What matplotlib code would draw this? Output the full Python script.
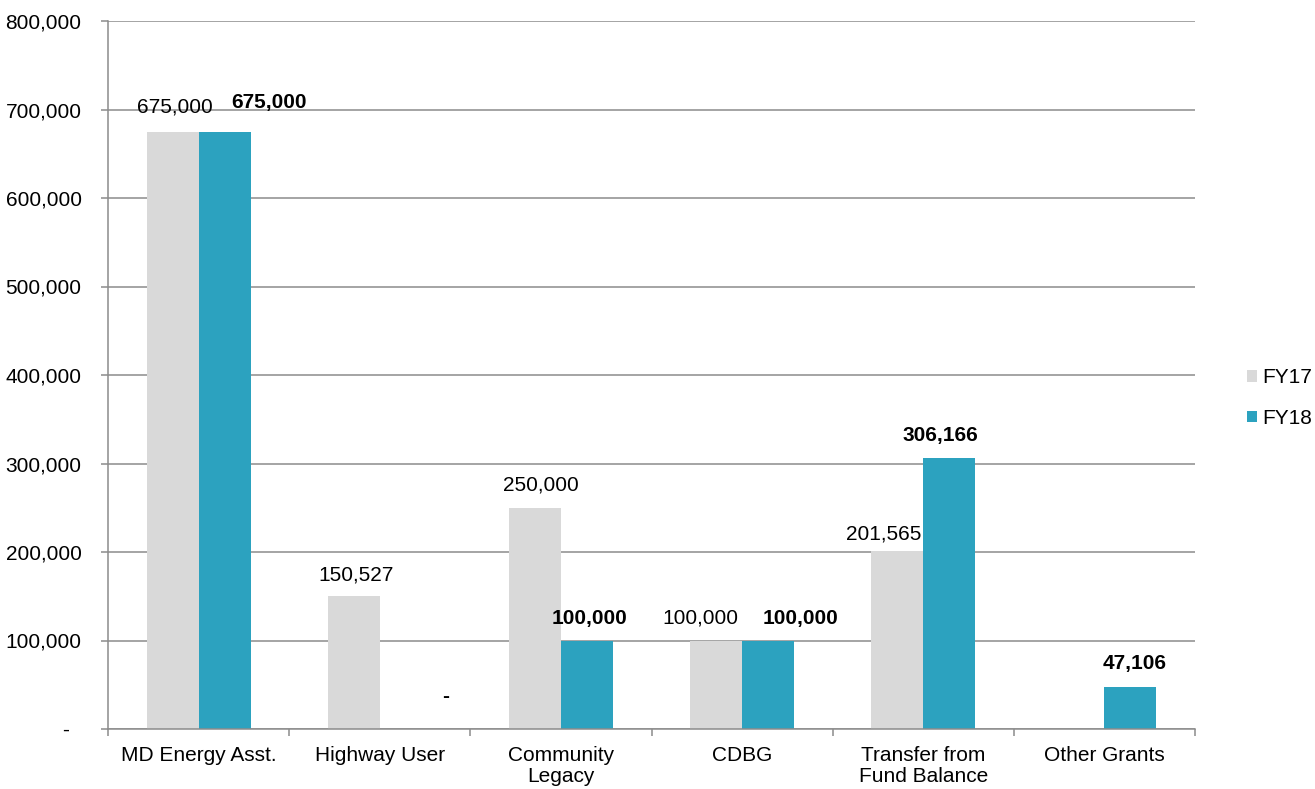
import matplotlib
matplotlib.use("Agg")
import matplotlib.pyplot as plt
import numpy as np
from matplotlib.ticker import FuncFormatter, FixedLocator

plt.rcParams["font.family"] = ["Liberation Sans", "DejaVu Sans"]

categories = ["MD Energy Asst.", "Highway User", "Community\nLegacy", "CDBG",
              "Transfer from\nFund Balance", "Other Grants"]
fy17 = [675000, 150527, 250000, 100000, 201565, 0]
fy18 = [675000, 0, 100000, 100000, 306166, 47106]
# which bars carry a value label (FY17 Other Grants is left blank)
fy17_labeled = [True, True, True, True, True, False]
fy18_labeled = [True, True, True, True, True, True]

c17 = "#D9D9D9"
c18 = "#2CA2BF"
grid_c = "#8C8C8C"
FS = 15

fig = plt.figure(figsize=(13.15, 7.89), dpi=100)
ax = fig.add_axes([108/1315, 1-729/789, (1195-108)/1315, (729-21)/789])

x = np.arange(len(categories))
w = 0.287
b17 = ax.bar(x - w/2, fy17, w, color=c17, zorder=2, label="FY17")
b18 = ax.bar(x + w/2, fy18, w, color=c18, zorder=2, label="FY18")

ax.set_xlim(-0.5, len(categories) - 0.5)
ax.set_ylim(0, 800000)
ax.set_yticks(np.arange(0, 800001, 100000))
ax.yaxis.set_major_formatter(FuncFormatter(lambda v, p: "-  " if v == 0 else f"{int(v):,}"))
ax.grid(axis="y", color=grid_c, linewidth=1.1, zorder=0)
ax.set_axisbelow(True)

for s in ["top", "right"]:
    ax.spines[s].set_visible(False)
for s in ["left", "bottom"]:
    ax.spines[s].set_color(grid_c)
    ax.spines[s].set_linewidth(1.1)

# category boundaries carry the tick marks, centers carry the labels
ax.xaxis.set_major_locator(FixedLocator(np.arange(-0.5, len(categories), 1.0)))
ax.xaxis.set_major_formatter(FuncFormatter(lambda v, p: ""))
ax.xaxis.set_minor_locator(FixedLocator(x))
ax.set_xticklabels(categories, minor=True)
for lbl in ax.get_xticklabels(minor=True):
    lbl.set_linespacing(1.15)
ax.tick_params(axis="x", which="major", length=5, width=1.1, color=grid_c, direction="out")
ax.tick_params(axis="x", which="minor", length=0, pad=12, labelsize=FS)
ax.tick_params(axis="y", length=5, width=1.1, color=grid_c, pad=14, labelsize=FS)

def fmt(v):
    return "-" if v == 0 else f"{v:,}"

PX = 0.72  # pixels to points at 100 dpi
# label nudges (px): horizontal shift, height above bar top
off17 = [(2, 25), (2, 21), (6, 23), (-16, 22), (-14, 17), (0, 0)]
off18 = [(44, 29), (40, 32), (3, 22), (32, 22), (-9, 23), (4, 24)]

for i in range(len(categories)):
    if fy17_labeled[i]:
        dx, dy = off17[i]
        ax.annotate(fmt(fy17[i]), (x[i] - w/2, fy17[i]), xytext=(dx*PX, dy*PX),
                    textcoords="offset points", ha="center", va="center",
                    fontsize=FS, color="black")
    if fy18_labeled[i]:
        dx, dy = off18[i]
        ax.annotate(fmt(fy18[i]), (x[i] + w/2, fy18[i]), xytext=(dx*PX, dy*PX),
                    textcoords="offset points", ha="center", va="center",
                    fontsize=FS, color="black", fontweight="bold")

fig.legend(handles=[b17, b18], labels=["FY17", "FY18"], loc="center left",
           bbox_to_anchor=(1228/1315, 1-398/789), frameon=False, fontsize=FS,
           handlelength=0.5, handleheight=0.5, handletextpad=0.25, labelspacing=1.05)

fig.savefig("out.png", dpi=100)
